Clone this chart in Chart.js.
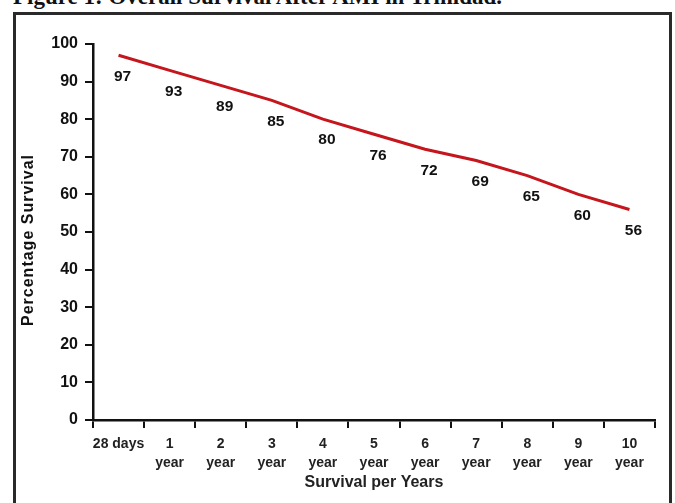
<!DOCTYPE html>
<html>
<head>
<meta charset="utf-8">
<script src="https://cdn.jsdelivr.net/npm/chart.js@4.4.1/dist/chart.umd.min.js"></script>
<style>
  html, body { margin: 0; padding: 0; background: #fff; overflow: hidden; }
  #wrap { position: absolute; left: 0; top: 0; width: 675px; height: 503px; }
  #title { position: absolute; left: 13px; top: -16px; font-family: "Liberation Serif", "DejaVu Serif", serif; font-weight: bold; font-size: 23px; color: #111; white-space: nowrap; }
  #box { position: absolute; left: 13px; top: 12px; width: 653px; height: 520px; border: 3px solid #2a2a2a; }
  #cv { position: absolute; left: 0; top: 0; }
</style>
</head>
<body>
<div id="wrap">
  <div id="title">Figure 1: Overall Survival After AMI in Trinidad.</div>
  <div id="box"></div>
  <canvas id="cv" width="675" height="503"></canvas>
</div>
<script>
const categories = [["28 days"], ["1", "year"], ["2", "year"], ["3", "year"], ["4", "year"], ["5", "year"], ["6", "year"], ["7", "year"], ["8", "year"], ["9", "year"], ["10", "year"]];
const survival = [97, 93, 89, 85, 80, 76, 72, 69, 65, 60, 56];
const yTicks = [0, 10, 20, 30, 40, 50, 60, 70, 80, 90, 100];

const FONT = '"Liberation Sans", Arial, sans-serif';

function spaced(scale, labelSpacing, titleSpacing, titleShiftY) {
  if (scale._spacedWrapped) return;
  scale._spacedWrapped = true;
  const origLabels = scale.drawLabels;
  const origTitle = scale.drawTitle;
  scale.drawLabels = function (area) {
    const ctx = this.ctx;
    const prev = ctx.letterSpacing;
    ctx.letterSpacing = labelSpacing;
    origLabels.call(this, area);
    ctx.letterSpacing = prev || '0px';
  };
  scale.drawTitle = function () {
    const ctx = this.ctx;
    const prev = ctx.letterSpacing;
    ctx.save();
    ctx.letterSpacing = titleSpacing;
    ctx.translate(0, titleShiftY);
    origTitle.call(this);
    ctx.restore();
    ctx.letterSpacing = prev || '0px';
  };
}

const valueLabels = {
  id: 'valueLabels',
  afterDatasetsDraw(chart) {
    const ctx = chart.ctx;
    const meta = chart.getDatasetMeta(0);
    ctx.save();
    ctx.font = 'bold 15.5px ' + FONT;
    ctx.fillStyle = '#111';
    ctx.textAlign = 'center';
    ctx.textBaseline = 'middle';
    meta.data.forEach((pt, i) => {
      ctx.fillText(String(survival[i]), pt.x + 4, pt.y + 21);
    });
    ctx.restore();
  }
};

new Chart(document.getElementById('cv'), {
  type: 'line',
  data: {
    labels: categories,
    datasets: [{
      data: survival,
      borderColor: '#c4161c',
      borderWidth: 3,
      pointRadius: 0,
      tension: 0,
      fill: false
    }]
  },
  options: {
    responsive: false,
    animation: false,
    devicePixelRatio: 1,
    layout: { padding: { left: 13, right: 20, top: 44, bottom: 0 } },
    plugins: { legend: { display: false }, tooltip: { enabled: false } },
    scales: {
      x: {
        type: 'category',
        offset: true,
        grid: { offset: true, drawOnChartArea: false, color: '#111', lineWidth: 2, tickLength: 8 },
        border: { color: '#111', width: 2.5 },
        ticks: {
          color: '#222',
          padding: 7,
          maxRotation: 0,
          autoSkip: false,
          font: { family: FONT, weight: 'bold', size: 14, lineHeight: '19px' }
        },
        title: {
          display: true,
          text: 'Survival per Years',
          color: '#222',
          padding: { top: 0, bottom: 11 },
          font: { family: FONT, weight: 'bold', size: 16 }
        },
        afterFit(scale) { scale.height = 83; spaced(scale, '0px', '0px', 0); }
      },
      y: {
        min: 0,
        max: 100,
        afterBuildTicks(scale) { scale.ticks = yTicks.map(v => ({ value: v })); },
        grid: { drawOnChartArea: false, color: '#111', lineWidth: 2, tickLength: 8 },
        border: { color: '#111', width: 2.5 },
        ticks: {
          color: '#111',
          padding: 7,
          font: { family: FONT, weight: 'bold', size: 16 }
        },
        title: {
          display: true,
          text: 'Percentage Survival',
          color: '#111',
          padding: { top: 6, bottom: 0 },
          font: { family: FONT, weight: 'bold', size: 16 }
        },
        afterFit(scale) { scale.width = 80; spaced(scale, '0px', '1px', 8); }
      }
    }
  },
  plugins: [valueLabels]
});
</script>
</body>
</html>
